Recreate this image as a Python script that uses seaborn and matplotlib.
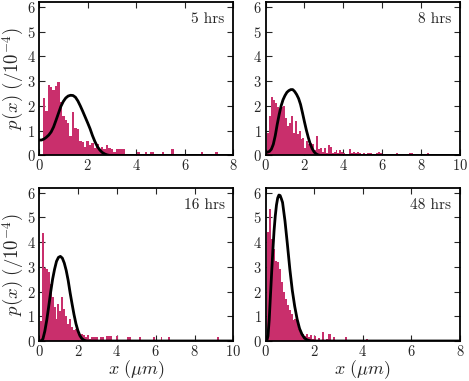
import matplotlib.pyplot as plt
import seaborn as sns
import numpy as np

# ---- 5 hrs ----
bins_5h = [0.2, 0.3, 0.4, 0.5, 0.6, 0.7, 0.8, 0.9, 1.0, 1.1, 1.2, 1.3, 1.4, 1.5, 1.6, 1.7,
           1.8, 1.9, 2.0, 2.1, 2.2, 2.3, 2.4, 2.5, 2.6, 2.7, 2.8, 2.9, 3.0, 3.1, 3.2, 3.3,
           3.4, 3.5, 4.1, 4.4, 4.6, 4.7, 5.1, 5.5, 6.7, 7.3]
p_5h = [2.33, 1.8, 2.85, 2.75, 2.65, 2.8, 2.95, 2.15, 1.6, 1.45, 1.3, 0.8, 1.75, 1.1, 1.05, 0.6,
        0.55, 0.35, 0.6, 0.4, 0.5, 0.3, 0.45, 0.25, 0.35, 0.25, 0.4, 0.3, 0.25, 0.15, 0.25, 0.25,
        0.25, 0.25, 0.12, 0.12, 0.12, 0.12, 0.12, 0.25, 0.12, 0.12]
fit_x_5h = [0, 0.1, 0.2, 0.3, 0.4, 0.5, 0.6, 0.7, 0.8, 0.9, 1.0, 1.1, 1.2, 1.3, 1.4, 1.5, 1.6,
            1.7, 1.8, 1.9, 2.0, 2.1, 2.2, 2.3, 2.4, 2.5, 2.6, 2.7, 2.8, 2.9, 8]
fit_p_5h = [0.62, 0.62, 0.66, 0.73, 0.82, 0.95, 1.15, 1.42, 1.7, 1.98, 2.18, 2.32, 2.4, 2.43, 2.42,
            2.35, 2.2, 2.0, 1.78, 1.55, 1.32, 1.08, 0.8, 0.56, 0.36, 0.22, 0.12, 0.06, 0.02, 0, 0]

# ---- 8 hrs ----
bins_8h = [0.15, 0.25, 0.35, 0.45, 0.55, 0.65, 0.75, 0.85, 0.95, 1.05, 1.15, 1.25, 1.35, 1.45,
           1.55, 1.65, 1.75, 1.85, 1.95, 2.05, 2.15, 2.25, 2.35, 2.45, 2.55, 2.65, 2.75, 2.85,
           2.95, 3.05, 3.15, 3.25, 3.35, 3.45, 3.55, 3.65, 3.75, 3.85, 3.95, 4.05, 4.35, 4.45,
           4.55, 4.65, 4.75, 4.85, 5.05, 5.25, 5.35, 5.45, 5.75, 5.85, 5.95, 6.75, 7.45, 7.55, 8.35]
p_8h = [0.9, 1.6, 2.35, 2.25, 2.1, 1.95, 1.7, 1.95, 2.0, 1.5, 1.2, 1.3, 1.6, 0.9,
        1.4, 0.85, 1.0, 0.65, 0.7, 0.3, 0.6, 0.45, 0.5, 0.45, 0.2, 0.8, 0.25, 0.3,
        0.15, 0.3, 0.1, 0.4, 0.35, 0.1, 0.15, 0.2, 0.1, 0.2, 0.15, 0.1, 0.25, 0.1,
        0.15, 0.1, 0.15, 0.1, 0.1, 0.1, 0.1, 0.1, 0.1, 0.15, 0.1, 0.1, 0.1, 0.1, 0.1]
fit_x_8h = [0, 0.1, 0.2, 0.3, 0.4, 0.5, 0.6, 0.7, 0.8, 0.9, 1.0, 1.1, 1.2, 1.3, 1.4, 1.5, 1.6,
            1.7, 1.8, 1.9, 2.0, 2.1, 2.2, 2.3, 2.4, 2.5, 2.6, 2.7, 2.8, 10]
fit_p_8h = [0.12, 0.13, 0.16, 0.25, 0.45, 0.8, 1.25, 1.65, 2.0, 2.25, 2.42, 2.55, 2.62, 2.66, 2.66,
            2.58, 2.46, 2.3, 2.06, 1.72, 1.36, 1.02, 0.72, 0.46, 0.27, 0.14, 0.06, 0.02, 0, 0]

# ---- 16 hrs ----
bins_16h = [0.1, 0.2, 0.3, 0.4, 0.5, 0.6, 0.7, 0.8, 0.9, 1.0, 1.1, 1.2, 1.3, 1.4, 1.5, 1.6,
            1.7, 1.8, 1.9, 2.0, 2.1, 2.2, 2.3, 2.4, 2.5, 2.6, 2.7, 2.8, 2.9, 3.0, 3.2, 3.3,
            3.5, 3.6, 3.7, 4.0, 4.6, 4.7, 5.2, 5.9, 6.3, 6.7, 9.2]
p_16h = [0.8, 4.35, 2.97, 2.9, 2.77, 2.3, 1.77, 1.37, 0.9, 1.5, 1.23, 1.77, 1.3, 1.03, 0.7, 0.9,
         0.56, 0.43, 0.5, 0.35, 0.2, 0.3, 0.25, 0.15, 0.25, 0.1, 0.15, 0.15, 0.15, 0.15, 0.15, 0.15,
         0.2, 0.2, 0.2, 0.22, 0.15, 0.15, 0.15, 0.15, 0.15, 0.15, 0.15]
fit_x_16h = [0, 0.1, 0.2, 0.3, 0.4, 0.5, 0.6, 0.7, 0.8, 0.9, 1.0, 1.1, 1.2, 1.3, 1.4, 1.5, 1.6,
             1.7, 1.8, 1.9, 2.0, 2.1, 2.2, 2.3, 2.4, 2.5, 10]
fit_p_16h = [0, 0, 0.08, 0.4, 0.85, 1.4, 1.98, 2.5, 2.9, 3.22, 3.38, 3.42, 3.35, 3.15, 2.85, 2.45,
             1.95, 1.5, 1.07, 0.7, 0.42, 0.22, 0.1, 0.04, 0.01, 0, 0]

# ---- 48 hrs ----
bins_48h = [0.11, 0.19, 0.27, 0.35, 0.43, 0.51, 0.59, 0.67, 0.75, 0.83, 0.91, 0.99, 1.07, 1.15,
            1.23, 1.31, 1.39, 1.47, 1.55, 1.63, 1.71, 1.79, 1.87, 1.95, 2.03, 2.19, 2.35, 2.51,
            2.59, 2.67, 2.83, 3.31, 4.19]
p_48h = [4.39, 5.33, 4.12, 3.72, 3.25, 3.21, 2.92, 2.38, 1.98, 1.71, 1.45, 1.25, 1.1, 0.84,
         0.9, 0.9, 0.5, 0.37, 0.27, 0.2, 0.27, 0.17, 0.24, 0.1, 0.2, 0.12, 0.35, 0.1,
         0.27, 0.27, 0.17, 0.17, 0.1]
fit_x_48h = [0, 0.05, 0.1, 0.15, 0.2, 0.25, 0.3, 0.35, 0.4, 0.45, 0.5, 0.55, 0.6, 0.65, 0.7, 0.8,
             0.9, 1.0, 1.1, 1.2, 1.3, 1.4, 1.5, 1.6, 1.7, 1.8, 1.9, 8]
fit_p_48h = [0, 0, 0.2, 0.85, 1.8, 2.75, 3.65, 4.45, 5.05, 5.5, 5.78, 5.9, 5.88, 5.75, 5.6, 4.85,
             3.9, 2.9, 2.05, 1.4, 0.88, 0.5, 0.27, 0.12, 0.05, 0.02, 0, 0]

panels = [
    ("5 hrs", bins_5h, p_5h, 0.1, fit_x_5h, fit_p_5h, 8),
    ("8 hrs", bins_8h, p_8h, 0.1, fit_x_8h, fit_p_8h, 10),
    ("16 hrs", bins_16h, p_16h, 0.1, fit_x_16h, fit_p_16h, 10),
    ("48 hrs", bins_48h, p_48h, 0.08, fit_x_48h, fit_p_48h, 8),
]

sns.set_style("ticks")
plt.rcParams["font.family"] = ["cmr10", "DejaVu Serif"]
plt.rcParams["mathtext.fontset"] = "cm"
plt.rcParams["axes.formatter.use_mathtext"] = True
plt.rcParams["axes.unicode_minus"] = False

bar_color = "#c92f6c"

fig, axes = plt.subplots(2, 2, figsize=(4.69, 3.81), dpi=100)
fig.subplots_adjust(left=39/469, right=460/469, top=1-2/381, bottom=1-341/381,
                    wspace=0.165, hspace=0.21)

for ax, (label, mids, vals, w, fx, fp, xmax) in zip(axes.flat, panels):
    sns.histplot(x=mids, weights=vals, binwidth=w,
                 binrange=(mids[0] - w/2, mids[-1] + w/2),
                 color=bar_color, alpha=1, edgecolor="none", linewidth=0, ax=ax)
    sns.lineplot(x=fx, y=fp, color="black", linewidth=2, ax=ax)
    ax.set_xlim(0, xmax)
    ax.set_ylim(0, 6.2)
    ax.set_xticks(np.arange(0, xmax + 1, 2))
    ax.set_yticks(range(0, 7))
    ax.tick_params(direction="in", top=True, right=True, length=4, width=0.8,
                   labelsize=10.5, pad=2.5)
    ax.tick_params(axis="x", pad=2)
    for s in ax.spines.values():
        s.set_linewidth(1.3)
        s.set_color("black")
    ax.set_xlabel("")
    ax.set_ylabel("")
    ax.text(0.955, 0.888, label, transform=ax.transAxes, ha="right", va="center",
            fontsize=11)

for ax in axes[:, 0]:
    ax.set_ylabel(r"$p(x)\ (/10^{-4})$", fontsize=13.5, labelpad=0.5)
for ax in axes[1, :]:
    ax.set_xlabel(r"$x\ (\mu m)$", fontsize=13, labelpad=0)

plt.savefig("out.png", dpi=100)
